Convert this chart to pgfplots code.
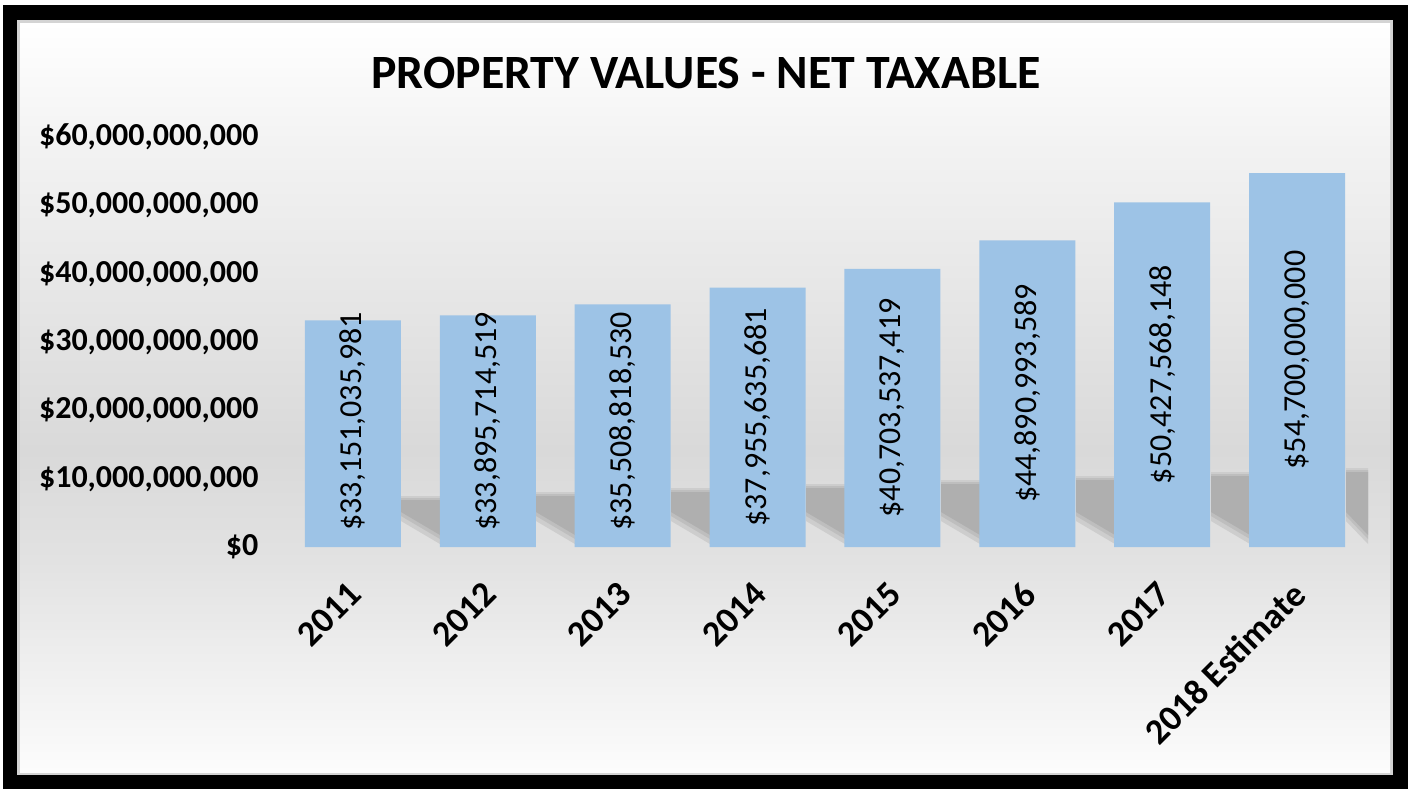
\documentclass[border=0pt]{standalone}
\usepackage{pgfplots}
\pgfplotsset{compat=1.18}
\usepackage{fontspec}
\setmainfont{Carlito}
\definecolor{barblue}{HTML}{9DC3E6}
\definecolor{shadowcore}{HTML}{AFAFAF}
\definecolor{shadowmid}{HTML}{BEBEBE}
\definecolor{shadowouter}{HTML}{CDCDCD}
\definecolor{bgA}{HTML}{FFFFFF}
\definecolor{bgB}{HTML}{F3F3F3}
\definecolor{bgC}{HTML}{D9D9D9}
\definecolor{bgD}{HTML}{E2E2E2}
\definecolor{bgE}{HTML}{FCFCFC}
\definecolor{framegray}{HTML}{D4D4D4}
\pgfplotstableread{
x v lab
0 33.151035981 33,151,035,981
1 33.895714519 33,895,714,519
2 35.508818530 35,508,818,530
3 37.955635681 37,955,635,681
4 40.703537419 40,703,537,419
5 44.890993589 44,890,993,589
6 50.427568148 50,427,568,148
7 54.700000000 54,700,000,000
}\datatable
\begin{document}
\begin{tikzpicture}[x=1pt,y=1pt]
\useasboundingbox (0,0) rectangle (704.5,-394.5);
\fill[black] (1.5,-2.5) rectangle (704,-394.5);
\fill[framegray] (8.5,-10) rectangle (696.5,-387.5);
\fill[top color=bgA, bottom color=bgB] (10,-11.5) rectangle (695,-70.2);
\fill[top color=bgB, bottom color=bgC] (10,-70) rectangle (695,-225.2);
\fill[top color=bgC, bottom color=bgD] (10,-225) rectangle (695,-280.2);
\fill[top color=bgD, bottom color=bgE] (10,-280) rectangle (695,-386);
% floor shadow (decoration)
\foreach \i in {0,...,7}{
  \pgfmathsetmacro\xr{(401+135*\i)/2}
  \pgfmathsetmacro\xl{min((440+135*\i)/2,684)}
  \pgfmathsetmacro\yt{-(495-4*\i)/2}
  \fill[shadowouter] (\xr,\yt-0.5) -- (\xl,\yt-0.5) -- (\xl,-272) -- (\xr,-260.5) -- cycle;
  \fill[shadowmid] (\xr,\yt-1.5) -- (\xl,\yt-1.5) -- (\xl,-269.5) -- (\xr,-258) -- cycle;
  \fill[shadowcore] (\xr,\yt-2.5) -- (\xl,\yt-2.5) -- (\xl,-267.5) -- (\xr,-256) -- cycle;
}
\node[font=\fontsize{23.9}{29}\selectfont\bfseries] at (353,-36.5) {PROPERTY VALUES - NET TAXABLE};
\begin{axis}[at={(142.75pt,-273.5pt)}, anchor=south west, scale only axis,
  width=539.5pt, height=205pt,
  xmin=-0.5, xmax=7.5, ymin=0, ymax=60,
  axis line style={draw=none}, major tick length=0pt,
  xtick={0,...,7},
  xticklabels={2011,2012,2013,2014,2015,2016,2017,2018 Estimate},
  ytick={0,10,...,60},
  yticklabels={{\$0},{\$10,000,000,000},{\$20,000,000,000},{\$30,000,000,000},{\$40,000,000,000},{\$50,000,000,000},{\$60,000,000,000}},
  yticklabel style={font=\fontsize{16}{19}\selectfont\bfseries, anchor=east, xshift=-10pt},
  xticklabel style={font=\fontsize{18}{21}\selectfont\bfseries, inner sep=1pt, xshift=2pt, anchor=east, rotate=45},
  xticklabel shift=20pt,
  clip=false]
\addplot[ybar, bar width=48pt, fill=barblue, draw=none,
  nodes near coords={\$\pgfplotspointmeta}, point meta=explicit symbolic,
  visualization depends on={\thisrow{v}-max(\thisrow{v}/2,18.4) \as \dy},
  every node near coord/.append style={shift={(axis direction cs:0,-\dy)}, rotate=90, anchor=center,
    font=\fontsize{16}{19}\selectfont, text=black}]
  table[x=x, y=v, meta=lab] {\datatable};
\end{axis}
\end{tikzpicture}
\end{document}
